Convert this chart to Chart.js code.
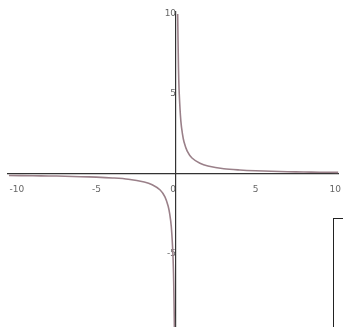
<!DOCTYPE html>
<html>
<head>
<meta charset="utf-8">
<script src="https://cdn.jsdelivr.net/npm/chart.js@4"></script>
<style>
    html, body { margin: 0; padding: 0; background: #fff; overflow: hidden; }
    #wrap { position: relative; width: 343px; height: 345px; }
    #legendBox {
        position: absolute; left: 333px; top: 218px;
        width: 30px; height: 140px;
        border: 1.5px solid #222; background: #fff;
    }
</style>
</head>
<body>
<div id="wrap">
    <canvas id="grafico" width="343" height="345"></canvas>
    <div id="legendBox"></div>
</div>
<script>
// Valores (ramo positivo e ramo negativo da curva)
const xPositivo = [0.1, 0.15, 0.2, 0.3, 0.4, 0.5, 0.7, 1, 1.5, 2, 3, 4, 5, 6, 7, 8, 9, 10.2];
const yPositivo = [10, 6.7, 5, 3.3, 2.5, 2, 1.43, 1, 0.67, 0.5, 0.33, 0.25, 0.2, 0.17, 0.14, 0.125, 0.11, 0.1];
const xNegativo = [-10.5, -9, -8, -7, -6, -5, -4, -3, -2, -1.5, -1, -0.7, -0.5, -0.4, -0.3, -0.2, -0.15, -0.1];
const yNegativo = [-0.1, -0.11, -0.125, -0.14, -0.17, -0.2, -0.25, -0.33, -0.5, -0.67, -1, -1.43, -2, -2.5, -3.3, -5, -6.7, -10];
const ticksX = [-10, -5, 0, 5, 10];
const ticksY = [-10, -5, 5, 10];

const corCurva = '#9a8089';

function pontos(xs, ys) {
    return xs.map((x, i) => ({ x: x, y: ys[i] }));
}

new Chart(document.getElementById('grafico'), {
    type: 'scatter',
    data: {
        datasets: [
            { data: pontos(xPositivo, yPositivo), showLine: true, borderColor: corCurva, borderWidth: 1.6, pointRadius: 0, tension: 0.3 },
            { data: pontos(xNegativo, yNegativo), showLine: true, borderColor: corCurva, borderWidth: 1.6, pointRadius: 0, tension: 0.3 }
        ]
    },
    options: {
        responsive: false,
        animation: false,
        layout: { padding: { left: 8, right: 3, top: 12, bottom: 11 } },
        plugins: { legend: { display: false }, tooltip: { enabled: false } },
        scales: {
            x: {
                type: 'linear',
                position: { y: 0 },
                min: -10.56, max: 10.2,
                afterBuildTicks: axis => { axis.ticks = ticksX.map(v => ({ value: v })); },
                grid: { display: false },
                border: { color: '#333', width: 1.2 },
                ticks: { color: '#666', font: { family: 'DejaVu Sans', size: 9 }, padding: 2,
                    callback: v => v === 0 ? '0  ' : v }
            },
            y: {
                type: 'linear',
                position: { x: 0 },
                min: -10, max: 10.12,
                afterBuildTicks: axis => { axis.ticks = ticksY.map(v => ({ value: v })); },
                grid: { display: false },
                border: { color: '#333', width: 1.2 },
                ticks: { color: '#666', font: { family: 'DejaVu Sans', size: 9 }, padding: 4 }
            }
        }
    }
});
</script>
</body>
</html>
